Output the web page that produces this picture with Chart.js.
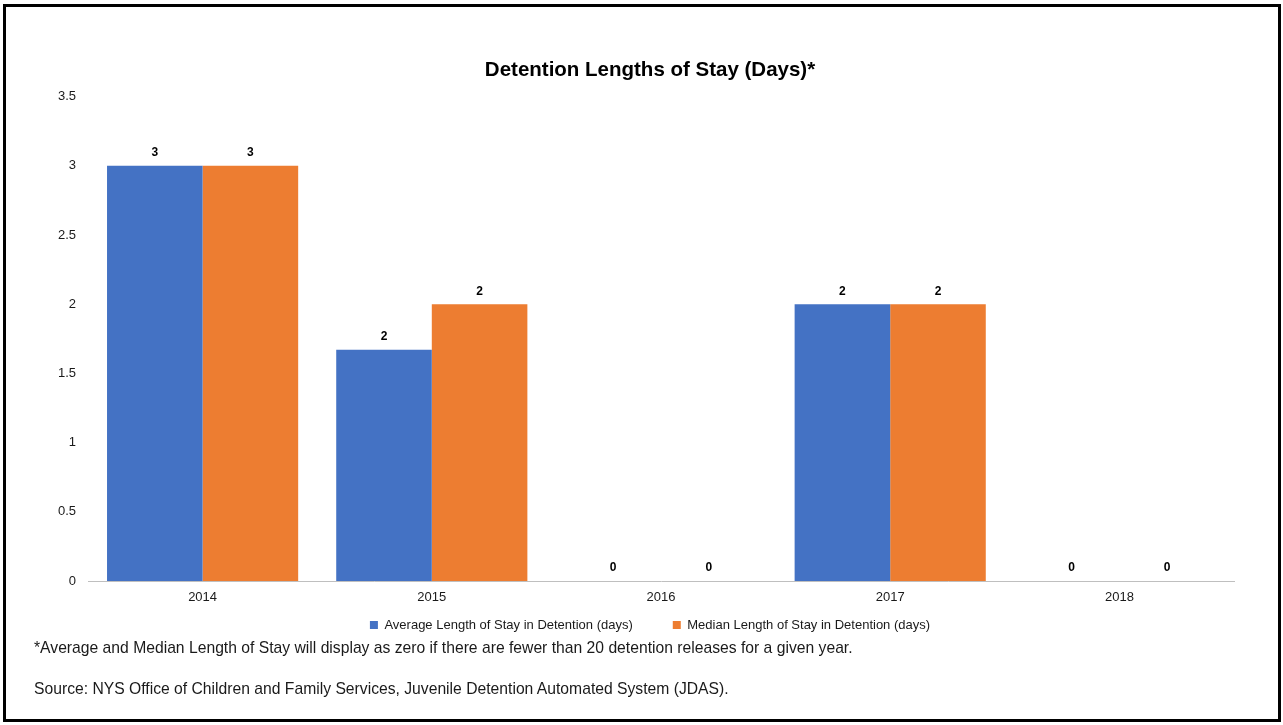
<!DOCTYPE html>
<html>
<head>
<meta charset="utf-8">
<script src="https://cdn.jsdelivr.net/npm/chart.js@4.4.1/dist/chart.umd.min.js"></script>
<style>
  body { margin: 0; background: #fff; font-family: "Liberation Sans", Arial, sans-serif; }
  #wrap { position: relative; width: 1283px; height: 725px; overflow: hidden; }
  #chart { position: absolute; left: 0; top: 0; }
  #frame { position: absolute; left: 3px; top: 4px; width: 1272px; height: 712px; border: 3px solid #000; pointer-events: none; }
  .note { position: absolute; left: 34px; font-size: 15.7px; line-height: 18px; color: #1a1a1a; white-space: nowrap; }
</style>
</head>
<body>
<div id="wrap">
  <canvas id="chart" width="1283" height="725"></canvas>
  <div class="note" style="top: 639px;">*Average and Median Length of Stay will display as zero if there are fewer than 20 detention releases for a given year.</div>
  <div class="note" style="top: 680px;">Source: NYS Office of Children and Family Services, Juvenile Detention Automated System (JDAS).</div>
  <div id="frame"></div>
</div>
<script>
const years = ['2014', '2015', '2016', '2017', '2018'];
const avgStay = [3, 1.67, 0, 2, 0];
const medianStay = [3, 2, 0, 2, 0];
const yTicks = [0, 0.5, 1, 1.5, 2, 2.5, 3, 3.5];

const FONT = '"Liberation Sans", Arial, sans-serif';

// numbers on top of bars, rounded like the original sheet
const barLabels = {
  id: 'barLabels',
  afterDatasetsDraw(chart) {
    const ctx = chart.ctx;
    ctx.save();
    ctx.font = 'bold 12px ' + FONT;
    ctx.fillStyle = '#000';
    ctx.textAlign = 'center';
    ctx.textBaseline = 'middle';
    chart.data.datasets.forEach((ds, i) => {
      chart.getDatasetMeta(i).data.forEach((bar, j) => {
        ctx.fillText(String(Math.round(ds.data[j])), bar.x, bar.y - 13);
      });
    });
    ctx.restore();
  }
};

// title and legend sit a bit right of the canvas centre, legend sits close under the axis
const nudge = {
  id: 'nudge',
  afterLayout(chart) {
    const dx = 13;
    const t = chart.titleBlock;
    t.left += dx; t.right += dx;
    const lg = chart.legend;
    const dy = 578.5 - lg.top;
    lg.left += dx; lg.right += dx;
    lg.top += dy; lg.bottom += dy;
  }
};

new Chart(document.getElementById('chart'), {
  type: 'bar',
  data: {
    labels: years,
    datasets: [
      { label: 'Average Length of Stay in Detention (days)', data: avgStay, backgroundColor: '#4472c4' },
      { label: 'Median Length of Stay in Detention (days)', data: medianStay, backgroundColor: '#ed7d31' }
    ]
  },
  options: {
    responsive: false,
    animation: false,
    layout: { padding: { left: 40, right: 49, top: 0, bottom: 51 } },
    datasets: { bar: { barPercentage: 1, categoryPercentage: 0.834 } },
    plugins: {
      title: {
        display: true,
        text: 'Detention Lengths of Stay (Days)*',
        color: '#000',
        font: { family: FONT, size: 20.5, weight: 'bold' },
        padding: { top: 58, bottom: 14 }
      },
      legend: {
        position: 'bottom',
        labels: {
          boxWidth: 8, boxHeight: 8, padding: 40, color: '#1a1a1a',
          font: { family: FONT, size: 13 }
        }
      },
      tooltip: { enabled: false }
    },
    scales: {
      x: {
        grid: { display: false, drawTicks: false },
        border: { color: '#bfbfbf', width: 1 },
        ticks: { color: '#1a1a1a', padding: 9, font: { family: FONT, size: 13 } },
        afterFit: (s) => { s.height = 30; }
      },
      y: {
        min: 0, max: 3.5,
        grid: { display: false, drawTicks: false },
        border: { display: false },
        afterBuildTicks: (s) => { s.ticks = yTicks.map(v => ({ value: v })); },
        ticks: {
          color: '#1a1a1a', padding: 12, font: { family: FONT, size: 13 },
          callback: (v) => String(v)
        },
        afterFit: (s) => { s.width = 48; }
      }
    }
  },
  plugins: [barLabels, nudge]
});
</script>
</body>
</html>
